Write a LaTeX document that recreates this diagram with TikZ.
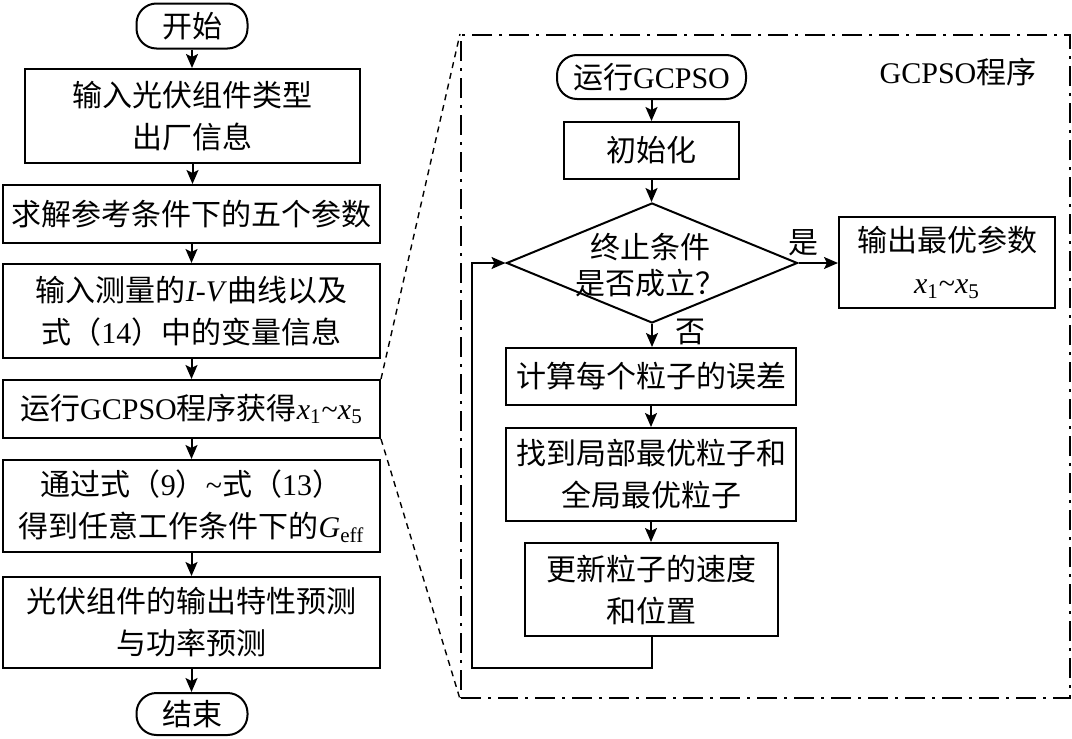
\documentclass[tikz,border=0pt]{standalone}
\usepackage{fontspec}
\setmainfont{Liberation Serif}
\newfontfamily\cjk{Noto Sans CJK SC}
\usepackage{tikz}
\usetikzlibrary{arrows.meta, shapes.geometric}
\newcommand{\zh}[1]{{\cjk #1}}
\newcommand{\xsub}[1]{\textit{x}\textsubscript{#1}}
\tikzset{
  flowbox/.style={draw, line width=1pt, align=center, inner sep=0pt},
  termbox/.style={flowbox, rounded corners=10pt},
  flowline/.style={line width=1pt, -{Stealth[length=7pt, width=6pt, inset=1.5pt]}},
  gcpsoframe/.style={draw, line width=1pt, dash pattern=on 10pt off 3.5pt on 1.5pt off 3.5pt},
  zoomline/.style={line width=0.7pt, dash pattern=on 3pt off 2.5pt}
}

\begin{document}
\begin{tikzpicture}[x=0.5pt, y=-0.5pt, font=\fontsize{15pt}{21pt}\selectfont]
  \useasboundingbox (0,0) rectangle (1072,739);
  % main flow
  \node[termbox, minimum width=55.5pt, minimum height=22.5pt] (start) at (192,26) {\zh{开始}};
  \node[flowbox, minimum width=167.5pt, minimum height=47pt] (inp) at (192.5,116)
    {\zh{输入光伏组件类型}\\\zh{出厂信息}};
  \node[flowbox, minimum width=188.5pt, minimum height=29pt] (ref) at (191.5,214)
    {\zh{求解参考条件下的五个参数}};
  \node[flowbox, minimum width=188.5pt, minimum height=47pt] (meas) at (191.5,311)
    {\zh{输入测量的}\textit{I-V}\zh{曲线以及}\\\zh{式（}14\zh{）中的变量信息}};
  \node[flowbox, minimum width=188.5pt, minimum height=29pt] (run) at (191.5,409)
    {\zh{运行}GCPSO\zh{程序获得}\xsub{1}\textasciitilde\xsub{5}};
  \node[flowbox, minimum width=188.5pt, minimum height=46pt] (geff) at (191.5,506)
    {\zh{通过式（}9\zh{）}\textasciitilde\zh{式（}13\zh{）}\\\zh{得到任意工作条件下的}\textit{G}\textsubscript{eff}};
  \node[flowbox, minimum width=188.5pt, minimum height=45.5pt] (pred) at (191.5,622.5)
    {\zh{光伏组件的输出特性预测}\\\zh{与功率预测}};
  \node[termbox, minimum width=55.5pt, minimum height=21pt] (stop) at (192,714) {\zh{结束}};

  \draw[flowline] (start.south) -- (start.south |- inp.north);
  \foreach \a/\b in {inp/ref, ref/meas, meas/run, run/geff, geff/pred, pred/stop}
    \draw[flowline] (\a.south) -- (\a.south |- \b.north);

  % GCPSO subroutine
  \node[gcpsoframe, minimum width=304.5pt, minimum height=331.5pt] (gcpso) at (765.5,366.5) {};
  \node (gtitle) at (958,72) {GCPSO\zh{程序}};
  \draw[zoomline] (run.north east) -- (gcpso.north west);
  \draw[zoomline] (run.south east) -- (gcpso.south west);

  \node[termbox, minimum width=94.5pt, minimum height=22pt] (rstart) at (651.5,77) {\zh{运行}GCPSO};
  \node[flowbox, minimum width=87.5pt, minimum height=28.5pt] (init) at (651.5,150.5) {\zh{初始化}};
  \node[diamond, draw, line width=1pt, minimum width=145.5pt, minimum height=60pt, inner sep=0pt] (stopq) at (652,263) {};
  \node[align=center] (stopqtext) at (650,265) {\zh{终止条件}\\[-3pt]\zh{是否成立？}};
  \node[flowbox, minimum width=108pt, minimum height=45.5pt] (best) at (947,262.5)
    {\zh{输出最优参数}\\\xsub{1}\textasciitilde\xsub{5}};
  \node[flowbox, minimum width=145pt, minimum height=28.5pt] (err) at (651,376.5) {\zh{计算每个粒子的误差}};
  \node[flowbox, minimum width=145pt, minimum height=46.5pt] (pbest) at (651,474.5)
    {\zh{找到局部最优粒子和}\\\zh{全局最优粒子}};
  \node[flowbox, minimum width=126.5pt, minimum height=46.5pt] (upd) at (651.5,589.5)
    {\zh{更新粒子的速度}\\\zh{和位置}};
  \node (yes) at (803,243) {\zh{是}};
  \node (no) at (690,332) {\zh{否}};

  \draw[flowline] (rstart.south) -- (rstart.south |- init.north);
  \draw[flowline] (init.south) -- (init.south |- stopq.north);
  \draw[flowline] (stopq.east) -- (stopq.east -| best.west);
  \draw[flowline] (stopq.south) -- (stopq.south |- err.north);
  \draw[flowline] (err.south) -- (err.south |- pbest.north);
  \draw[flowline] (pbest.south) -- (pbest.south |- upd.north);
  \coordinate (loopc) at (472,668);
  \draw[flowline] (upd.south) |- (loopc) |- (stopq.west);
\end{tikzpicture}
\end{document}
